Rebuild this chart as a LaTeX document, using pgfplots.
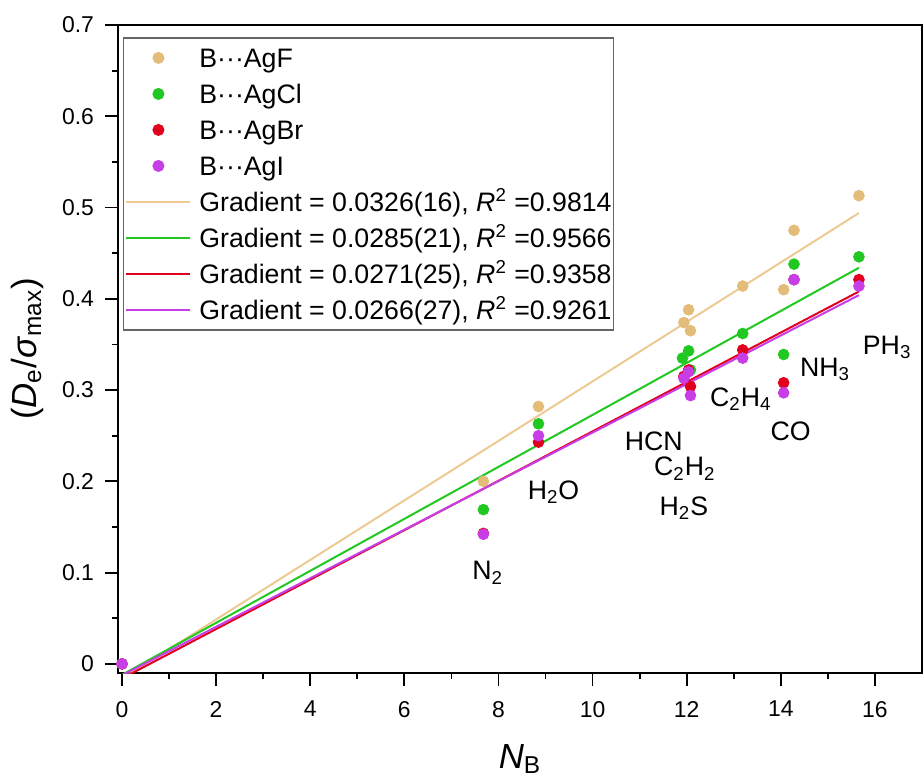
\documentclass[border=0pt]{standalone}
\usepackage{pgfplots}
\pgfplotsset{compat=1.18}
\usepackage{fontspec}
\setmainfont{Liberation Sans}

\definecolor{cF}{RGB}{228,188,122}
\definecolor{cFl}{RGB}{236,202,146}
\definecolor{cCl}{RGB}{34,200,34}
\definecolor{cBr}{RGB}{225,0,30}
\definecolor{cI}{RGB}{200,62,230}

% points: origin, N2, H2O, HCN, C2H2, H2S, C2H4, CO, NH3, PH3
\pgfplotstableread{
x y
0 0
7.68 0.200
8.85 0.282
11.94 0.374
12.04 0.388
12.08 0.365
13.19 0.414
14.06 0.410
14.28 0.475
15.66 0.513
}\agf
\pgfplotstableread{
x y
0 0
7.68 0.169
8.85 0.263
11.91 0.335
12.04 0.343
12.08 0.322
13.19 0.362
14.06 0.339
14.28 0.438
15.66 0.446
}\agcl
\pgfplotstableread{
x y
0 0
7.68 0.143
8.85 0.243
11.94 0.315
12.04 0.322
12.08 0.304
13.19 0.344
14.06 0.308
14.28 0.421
15.66 0.421
}\agbr
\pgfplotstableread{
x y
0 0
7.68 0.142
8.85 0.250
11.94 0.313
12.04 0.320
12.08 0.294
13.19 0.335
14.06 0.297
14.28 0.421
15.66 0.414
}\agi

\begin{document}
\begin{tikzpicture}
\useasboundingbox (-59bp,-53bp) rectangle (402.5bp,336.5bp);
\begin{axis}[
  at={(0,0)}, anchor=south west,
  width=402bp, height=324bp, scale only axis,
  xmin=-0.085, xmax=17, ymin=-0.01, ymax=0.7,
  xtick={0,2,...,16}, ytick={0,0.1,...,0.7},
  minor x tick num=1, minor y tick num=1,
  tick pos=left, tick align=outside,
  major tick length=6.5bp, minor tick length=3.2bp,
  axis line style={line width=1bp},
  every tick/.style={black, line width=0.9bp},
  /pgf/number format/assume math mode=true,
  tick label style={font=\fontsize{11.5}{13}\selectfont},
  yticklabel style={xshift=-2bp},
  xticklabel style={yshift=-4bp},
  xlabel={\textit{N}\textsubscript{B}},
  ylabel={(\textit{D}\textsubscript{e}/\textit{σ}\textsubscript{max})},
  label style={font=\fontsize{17.5}{20}\selectfont},
  xlabel style={at={(axis description cs:0.5,-0.1466)}, anchor=base},
  ylabel style={at={(axis description cs:-0.1132,0.5)}, anchor=center},
  clip mode=individual,
  legend cell align=left,
  legend style={at={(0.006,0.981)}, anchor=north west,
    font=\fontsize{13.4}{16}\selectfont, draw=black!60, line width=0.6bp,
    inner sep=1bp, row sep=0pt,
    nodes={inner sep=0pt, text height=13.8bp, text depth=4.2bp},
    /tikz/every odd column/.append style={column sep=4bp}},
  legend image code/.code={\draw[mark repeat=2,mark phase=2,#1]
    plot coordinates {(0bp,0bp) (16bp,0bp) (32bp,0bp)};},
]
\addlegendimage{only marks, mark=*, mark size=2.7bp, color=cF}
\addlegendentry{B···AgF}
\addlegendimage{only marks, mark=*, mark size=2.7bp, color=cCl}
\addlegendentry{B···AgCl}
\addlegendimage{only marks, mark=*, mark size=2.7bp, color=cBr}
\addlegendentry{B···AgBr}
\addlegendimage{only marks, mark=*, mark size=2.7bp, color=cI}
\addlegendentry{B···AgI}
\addlegendimage{no marks, line width=1bp, color=cFl}
\addlegendentry{Gradient = 0.0326(16), \textit{R}\textsuperscript{2} =0.9814}
\addlegendimage{no marks, line width=1bp, color=cCl}
\addlegendentry{Gradient = 0.0285(21), \textit{R}\textsuperscript{2} =0.9566}
\addlegendimage{no marks, line width=1bp, color=cBr}
\addlegendentry{Gradient = 0.0271(25), \textit{R}\textsuperscript{2} =0.9358}
\addlegendimage{no marks, line width=1bp, color=cI}
\addlegendentry{Gradient = 0.0266(27), \textit{R}\textsuperscript{2} =0.9261}

% fitted lines
\addplot[forget plot, no marks, line width=1bp, cFl] coordinates {(0,-0.0165) (15.66,0.494)};
\addplot[forget plot, no marks, line width=1bp, cCl] coordinates {(0,-0.012) (15.66,0.434)};
\addplot[forget plot, no marks, line width=1bp, cBr] coordinates {(0,-0.016) (15.66,0.408)};
\addplot[forget plot, no marks, line width=1bp, cI] coordinates {(0,-0.0126) (15.66,0.404)};

% data points
\addplot[forget plot, only marks, mark=*, mark size=2.7bp, color=cF] table {\agf};
\addplot[forget plot, only marks, mark=*, mark size=2.7bp, color=cCl] table {\agcl};
\addplot[forget plot, only marks, mark=*, mark size=2.7bp, color=cBr] table {\agbr};
\addplot[forget plot, only marks, mark=*, mark size=2.7bp, color=cI] table {\agi};

% molecule labels
\begin{scope}[every node/.style={font=\fontsize{13.4}{16}\selectfont, anchor=base}]
\node at (axis cs:7.77,0.092) {N\textsubscript{2}};
\node at (axis cs:9.17,0.180) {H\textsubscript{2}O};
\node at (axis cs:11.30,0.2335) {HCN};
\node at (axis cs:11.96,0.206) {C\textsubscript{2}H\textsubscript{2}};
\node at (axis cs:11.94,0.163) {H\textsubscript{2}S};
\node at (axis cs:13.15,0.282) {C\textsubscript{2}H\textsubscript{4}};
\node at (axis cs:14.21,0.245) {CO};
\node at (axis cs:14.94,0.315) {NH\textsubscript{3}};
\node at (axis cs:16.26,0.339) {PH\textsubscript{3}};
\end{scope}
\end{axis}
\end{tikzpicture}
\end{document}
